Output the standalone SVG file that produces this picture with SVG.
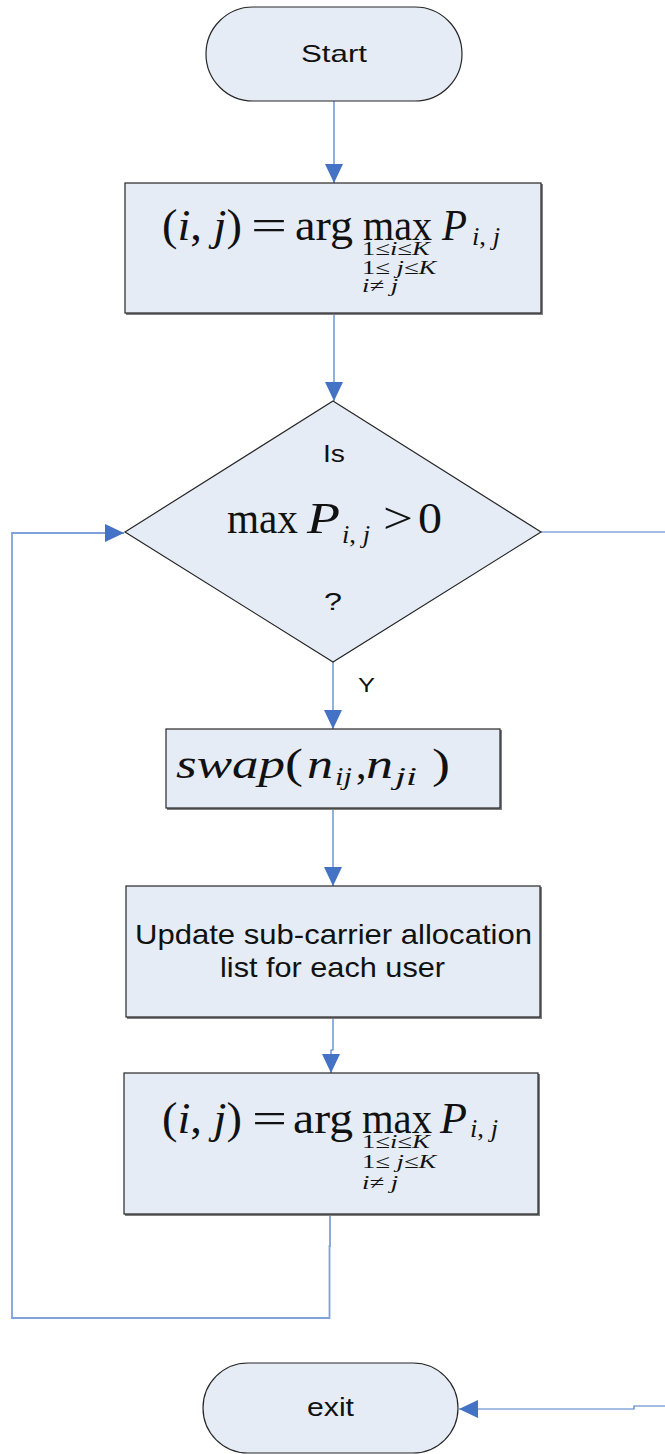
<svg xmlns="http://www.w3.org/2000/svg" width="665" height="1454" viewBox="0 0 665 1454">
<style>
.node{fill:#E5ECF6;stroke:#262626;stroke-width:1.2}
.shadow{fill:none;stroke:#7F7F7F;stroke-width:2}
.sans{font-family:"Liberation Sans",Arial,sans-serif;fill:#111}
.serif{font-family:"Liberation Serif","Times New Roman",serif;fill:#111}
.it{font-style:italic}
.conn{fill:none;stroke:#4A7CC6;stroke-width:1.2}
.loop{fill:none;stroke:#7FA2DA;stroke-width:1.8}
</style>
<defs>
<marker id="arr" markerUnits="userSpaceOnUse" markerWidth="20" markerHeight="18" refX="19" refY="9" orient="auto">
<path d="M0,0 L19,9 L0,18 z" fill="#4472C4"/>
</marker>
</defs>
<rect width="665" height="1454" fill="#FFFFFF"/>
<g id="connectors">
<path class="conn" d="M334,101 V183" marker-end="url(#arr)"/>
<path class="conn" d="M334,313 V401" marker-end="url(#arr)"/>
<path class="conn" d="M333,662 V729" marker-end="url(#arr)"/>
<path class="conn" d="M333,808 V886" marker-end="url(#arr)"/>
<path class="conn" d="M333,1017 V1050 H331 V1073" marker-end="url(#arr)"/>
<path class="loop" d="M330,1214 V1246 H329.5 V1318 H12 V533 H124" marker-end="url(#arr)"/>
<path class="conn" d="M541,532 H672 V1406 H634 V1409 H459" marker-end="url(#arr)"/>
</g>
<g id="start">
<rect class="node" x="206" y="7" width="256" height="94" rx="47" ry="47"/>
<text class="sans" x="301" y="62" font-size="24" textLength="66" lengthAdjust="spacingAndGlyphs">Start</text>
</g>
<g id="argmax1">
<path class="shadow" d="M126,314 H542 V184"/>
<rect class="node" x="125" y="183" width="416" height="130"/>
<text class="serif" x="162" y="240" font-size="44" textLength="80" lengthAdjust="spacingAndGlyphs">(<tspan class="it">i</tspan>, <tspan class="it">j</tspan>)</text>
<text class="serif" x="251" y="240" font-size="44" textLength="36" lengthAdjust="spacingAndGlyphs">=</text>
<text class="serif" x="295" y="240" font-size="44" textLength="58" lengthAdjust="spacingAndGlyphs">arg</text>
<text class="serif" x="363" y="240" font-size="44" textLength="69" lengthAdjust="spacingAndGlyphs">max</text>
<text class="serif it" x="442" y="240" font-size="44" textLength="25" lengthAdjust="spacingAndGlyphs">P</text>
<text class="serif it" x="472" y="245" font-size="25" textLength="28" lengthAdjust="spacingAndGlyphs">i<tspan font-style="normal">,</tspan> j</text>
<text class="serif" font-size="19" transform="translate(362,0) scale(1.4,1)"><tspan x="0" y="255">1≤<tspan class="it">i</tspan>≤<tspan class="it">K</tspan></tspan><tspan x="0" y="274">1≤ <tspan class="it">j</tspan>≤<tspan class="it">K</tspan></tspan><tspan x="0" y="292"><tspan class="it">i</tspan>≠ <tspan class="it">j</tspan></tspan></text>
</g>
<g id="decision">
<polygon class="node" points="333,401 541,532 333,662 125,532"/>
<text class="sans" x="323" y="462" font-size="24" textLength="22" lengthAdjust="spacingAndGlyphs">Is</text>
<text class="serif" x="227" y="533" font-size="44" textLength="71" lengthAdjust="spacingAndGlyphs">max</text>
<text class="serif it" x="307" y="533" font-size="44" textLength="33" lengthAdjust="spacingAndGlyphs">P</text>
<text class="serif it" x="342" y="543" font-size="25" textLength="28" lengthAdjust="spacingAndGlyphs">i<tspan font-style="normal">,</tspan> j</text>
<text class="serif" x="383" y="533" font-size="44" textLength="30" lengthAdjust="spacingAndGlyphs">&gt;</text>
<text class="serif" x="418" y="533" font-size="44" textLength="24" lengthAdjust="spacingAndGlyphs">0</text>
<text class="sans" x="324" y="610" font-size="23" textLength="18" lengthAdjust="spacingAndGlyphs">?</text>
</g>
<g id="label-y">
<text class="sans" x="358" y="692" font-size="21" textLength="17" lengthAdjust="spacingAndGlyphs">Y</text>
</g>
<g id="swap">
<path class="shadow" d="M167,809 H501 V730"/>
<rect class="node" x="166" y="729" width="334" height="79"/>
<text class="serif it" x="176" y="778" font-size="42" textLength="109" lengthAdjust="spacingAndGlyphs">swap</text>
<text class="serif" x="285" y="778" font-size="42" textLength="18" lengthAdjust="spacingAndGlyphs">(</text>
<text class="serif it" x="307" y="778" font-size="42" textLength="26" lengthAdjust="spacingAndGlyphs">n</text>
<text class="serif it" x="335" y="785" font-size="25" textLength="17" lengthAdjust="spacingAndGlyphs">ij</text>
<text class="serif" x="356" y="778" font-size="42">,</text>
<text class="serif it" x="366" y="778" font-size="42" textLength="27" lengthAdjust="spacingAndGlyphs">n</text>
<text class="serif it" x="395" y="785" font-size="25" textLength="22" lengthAdjust="spacingAndGlyphs">ji</text>
<text class="serif" x="432" y="778" font-size="42" textLength="18" lengthAdjust="spacingAndGlyphs">)</text>
</g>
<g id="update">
<path class="shadow" d="M127,1018 H541 V887"/>
<rect class="node" x="126" y="886" width="414" height="131"/>
<text class="sans" x="135" y="944" font-size="28" textLength="397" lengthAdjust="spacingAndGlyphs">Update sub-carrier allocation</text>
<text class="sans" x="220" y="977" font-size="28" textLength="225" lengthAdjust="spacingAndGlyphs">list for each user</text>
</g>
<g id="argmax2">
<path class="shadow" d="M125,1215 H539 V1074"/>
<rect class="node" x="124" y="1073" width="414" height="141"/>
<text class="serif" x="162" y="1133" font-size="44" textLength="80" lengthAdjust="spacingAndGlyphs">(<tspan class="it">i</tspan>, <tspan class="it">j</tspan>)</text>
<text class="serif" x="252" y="1133" font-size="44" textLength="35" lengthAdjust="spacingAndGlyphs">=</text>
<text class="serif" x="293" y="1133" font-size="44" textLength="60" lengthAdjust="spacingAndGlyphs">arg</text>
<text class="serif" x="362" y="1133" font-size="44" textLength="70" lengthAdjust="spacingAndGlyphs">max</text>
<text class="serif it" x="440" y="1133" font-size="44" textLength="27" lengthAdjust="spacingAndGlyphs">P</text>
<text class="serif it" x="470" y="1137" font-size="25" textLength="28" lengthAdjust="spacingAndGlyphs">i<tspan font-style="normal">,</tspan> j</text>
<text class="serif" font-size="19" transform="translate(362,0) scale(1.4,1)"><tspan x="0" y="1148">1≤<tspan class="it">i</tspan>≤<tspan class="it">K</tspan></tspan><tspan x="0" y="1168">1≤ <tspan class="it">j</tspan>≤<tspan class="it">K</tspan></tspan><tspan x="0" y="1189"><tspan class="it">i</tspan>≠ <tspan class="it">j</tspan></tspan></text>
</g>
<g id="exit">
<rect class="node" x="203" y="1363" width="255" height="90" rx="45" ry="45"/>
<text class="sans" x="307" y="1416" font-size="26" textLength="47" lengthAdjust="spacingAndGlyphs">exit</text>
</g>
</svg>
